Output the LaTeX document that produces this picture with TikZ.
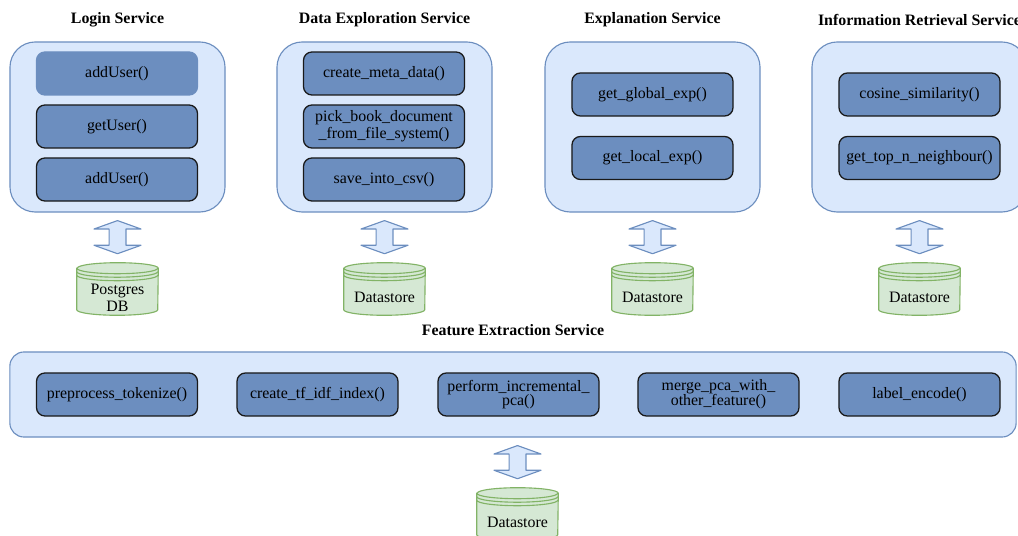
\documentclass[tikz,border=0pt]{standalone}
\usepackage{fontspec}
\setmainfont{Liberation Serif}
\usetikzlibrary{calc}
\definecolor{svcfill}{HTML}{DAE8FC}
\definecolor{svcline}{HTML}{6C8EBF}
\definecolor{fnfill}{HTML}{6C8EBF}
\definecolor{dbfill}{HTML}{D5E8D4}
\definecolor{dbline}{HTML}{82B366}

% cylinder store: name, centre, label
\newcommand{\datastore}[3]{%
  \node[storebody] (#1) at #2 {};
  \filldraw[store] ($(#1.north west)+(0,5.5)$) -- ($(#1.south west)+(0,-5.5)$)
    arc[start angle=180, end angle=360, x radius=1.0125cm, y radius=0.1375cm]
    -- ($(#1.north east)+(0,5.5)$)
    arc[start angle=0, end angle=180, x radius=1.0125cm, y radius=0.1375cm] -- cycle;
  \foreach \d in {5.5,9,12.5}
    \draw[store, fill=none] ($(#1.north west)+(0,\d)$)
      arc[start angle=180, end angle=360, x radius=1.0125cm, y radius=0.1375cm];
  \node[align=center] (#1-label) at ($(#1.center)+(0,8.5)$) {#3};
}
% hollow double arrow from a service box down to its store
\newcommand{\syncarrow}[2]{%
  \path[sync] let \p1=($(#1.south)+(0,8)$), \p2=($(#2.north)+(0,-9)$) in
    (\x2,\y1) -- (\x2+16.7pt,\y1-6pt) -- (\x2+6pt,\y1-6pt) -- (\x2+6pt,\y2+6pt)
    -- (\x2+16.7pt,\y2+6pt) -- (\x2,\y2) -- (\x2-16.7pt,\y2+6pt) -- (\x2-6pt,\y2+6pt)
    -- (\x2-6pt,\y1-6pt) -- (\x2-16.7pt,\y1-6pt) -- cycle;
}

\begin{document}
\begin{tikzpicture}[x=0.025cm, y=-0.025cm, font=\fontsize{11.3}{12}\selectfont,
    service/.style={draw=svcline, fill=svcfill, line width=0.8pt, rounded corners=18pt,
      minimum width=5.375cm, minimum height=4.25cm},
    fn/.style={draw=black!90, fill=fnfill, line width=0.9pt, rounded corners=6pt,
      minimum width=4.025cm, minimum height=1.075cm, align=center, inner sep=1pt},
    title/.style={font=\fontsize{11.3}{12}\selectfont\bfseries},
    store/.style={draw=dbline, fill=dbfill, line width=0.8pt},
    storebody/.style={minimum width=2.025cm, minimum height=1.3cm, inner sep=0pt},
    sync/.style={draw=svcline, fill=svcfill, line width=0.8pt, line join=round}]
  \useasboundingbox (0,0) rectangle (1018,536);
  \clip (0,0) rectangle (1018,536);

  % Login service
  \node[title] (login-title) at (117.5,20) {Login Service};
  \node[service] (login) at (117.5,127) {};
  \node[fn, draw=fnfill] (adduser) at (117,73.5) {addUser()};
  \node[fn] (getuser) at (117,126.5) {getUser()};
  \node[fn] (adduser2) at (117,179.5) {addUser()};

  % Data exploration service
  \node[title] (explore-title) at (384.5,20) {Data Exploration Service};
  \node[service] (explore) at (384.5,127) {};
  \node[fn] (metadata) at (384,73.5) {create\_meta\_data()};
  \node[fn] (pickbook) at (384,126.5) {pick\_book\_document\\\_from\_file\_system()};
  \node[fn] (savecsv) at (384,179.5) {save\_into\_csv()};

  % Explanation service
  \node[title] (explain-title) at (652.5,20) {Explanation Service};
  \node[service] (explain) at (652.5,127) {};
  \node[fn] (globalexp) at (652.5,94.5) {get\_global\_exp()};
  \node[fn] (localexp) at (652.5,158) {get\_local\_exp()};

  % Information retrieval service
  \node[title] (retrieve-title) at (919.5,20) {Information Retrieval Service};
  \node[service] (retrieve) at (919.5,127) {};
  \node[fn] (cosine) at (919.5,94.5) {cosine\_similarity()};
  \node[fn] (topn) at (919.5,158) {get\_top\_n\_neighbour()};

  % Stores of the upper services
  \datastore{pgdb}{(117.5,289)}{Postgres\\DB}
  \datastore{explorestore}{(384.5,289)}{Datastore}
  \datastore{explainstore}{(652.5,289)}{Datastore}
  \datastore{retrievestore}{(919.5,289)}{Datastore}
  \syncarrow{login}{pgdb}
  \syncarrow{explore}{explorestore}
  \syncarrow{explain}{explainstore}
  \syncarrow{retrieve}{retrievestore}

  % Feature extraction service
  \node[title] (feature-title) at (513,330) {Feature Extraction Service};
  \node[service, minimum width=25.15cm, minimum height=2.125cm, rounded corners=10pt]
    (feature) at (513,394.5) {};
  \node[fn] (tokenize) at (117,394.5) {preprocess\_tokenize()};
  \node[fn] (tfidf) at (317.5,394.5) {create\_tf\_idf\_index()};
  \node[fn] (pca) at (518.5,394.5) {perform\_incremental\_\\[-1.5pt]pca()};
  \node[fn] (mergepca) at (718.5,394.5) {merge\_pca\_with\_\\[-1.5pt]other\_feature()};
  \node[fn] (encode) at (919.5,394.5) {label\_encode()};

  \datastore{featurestore}{(517.5,514)}{Datastore}
  \syncarrow{feature}{featurestore}
\end{tikzpicture}
\end{document}
